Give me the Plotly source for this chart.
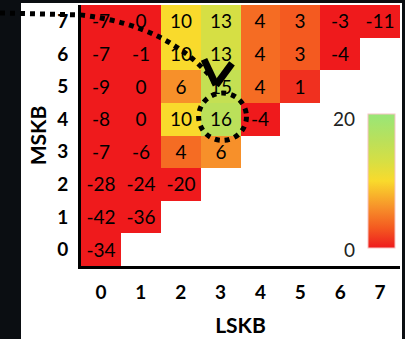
import plotly.graph_objects as go

# ---- data ----
lskb = [0, 1, 2, 3, 4, 5, 6, 7]          # x categories
mskb = [0, 1, 2, 3, 4, 5, 6, 7]          # y categories
row0 = [-34, None, None, None, None, None, None, None]
row1 = [-42, -36, None, None, None, None, None, None]
row2 = [-28, -24, -20, None, None, None, None, None]
row3 = [-7, -6, 4, 6, None, None, None, None]
row4 = [-8, 0, 10, 16, -4, None, None, None]
row5 = [-9, 0, 6, 15, 4, 1, None, None]
row6 = [-7, -1, 10, 13, 4, 3, -4, None]
row7 = [-7, 0, 10, 13, 4, 3, -3, -11]
cbar_ticks = [0, 20]
x_title = "LSKB"
y_title = "MSKB"

z = [row0, row1, row2, row3, row4, row5, row6, row7]
text = [["" if v is None else str(v) for v in r] for r in z]

W, H = 405, 339
L, R, T, B = 81, 5, 5, 70
PW, PH = W - L - R, H - T - B


def px(xp):
    return (xp - L) / PW


def py(yp):
    return (H - B - yp) / PH


FONT = "Lato"

colorscale = [
    [0.0, "#ef1a1c"],
    [0.05, "#f0301f"],
    [0.15, "#f45a20"],
    [0.3, "#f7902a"],
    [0.5, "#f9da2c"],
    [0.65, "#d6df44"],
    [0.8, "#bbe05a"],
    [1.0, "#98e678"],
]

fig = go.Figure()
fig.add_trace(go.Heatmap(
    x=lskb, y=mskb, z=z, text=text,
    texttemplate="%{text}",
    textfont=dict(family=FONT, size=19, color="black"),
    colorscale=colorscale, zmin=cbar_ticks[0], zmax=cbar_ticks[-1],
    xgap=0, ygap=0, hoverinfo="skip",
    colorbar=dict(
        x=px(368), xanchor="left", xpad=0,
        y=py(183), yanchor="middle", ypad=0,
        thickness=27, thicknessmode="pixels",
        len=134, lenmode="pixels",
        outlinewidth=1, outlinecolor="#f7c4c4",
        showticklabels=False, ticks="",
        tickvals=cbar_ticks,
    ),
))

# colorbar labels (left of bar)
lab_y = {cbar_ticks[-1]: 120, cbar_ticks[0]: 252}
for v in cbar_ticks:
    fig.add_annotation(
        x=px(357), y=py(lab_y[v]), xref="paper", yref="paper",
        text=str(v), showarrow=False, xanchor="right", yanchor="middle",
        font=dict(family=FONT, size=19, color="#222222"),
    )

shapes = []
# white slide area over dark background
shapes.append(dict(type="rect", xref="paper", yref="paper",
                   x0=px(21), x1=px(402), y0=py(3), y1=py(H + 20),
                   fillcolor="white", line=dict(width=0), layer="below"))
# dotted pointer line
path = "M {:.5f},{:.5f} L {:.5f},{:.5f} Q {:.5f},{:.5f} {:.5f},{:.5f}".format(
    px(0), py(13), px(80), py(15), px(170), py(25), px(216), py(84))
shapes.append(dict(type="path", xref="paper", yref="paper", path=path,
                   line=dict(color="black", width=5, dash="dot")))
# arrowhead strokes
shapes.append(dict(type="line", xref="paper", yref="paper",
                   x0=px(204), y0=py(60), x1=px(216), y1=py(86),
                   line=dict(color="black", width=7)))
shapes.append(dict(type="line", xref="paper", yref="paper",
                   x0=px(232), y0=py(64), x1=px(216), y1=py(86),
                   line=dict(color="black", width=7)))
# dotted circle around cell (3,4)
shapes.append(dict(type="circle", xref="x", yref="y",
                   x0=2.45, x1=3.65, y0=3.35, y1=4.8,
                   line=dict(color="black", width=5, dash="dot")))

fig.update_layout(
    width=W, height=H,
    margin=dict(l=L, r=R, t=T, b=B, pad=0),
    paper_bgcolor="#0b0e12",
    plot_bgcolor="white",
    shapes=shapes,
    font=dict(family=FONT, color="black"),
    xaxis=dict(
        tickvals=lskb, ticktext=[str(v) for v in lskb],
        range=[-0.5, 7.5], showgrid=False, zeroline=False,
        showline=True, linewidth=3, linecolor="black",
        ticks="", ticklabelstandoff=7,
        tickfont=dict(family=FONT, size=19, color="black", weight="bold"),
        title=dict(text=x_title, standoff=17,
                   font=dict(family=FONT, size=21, color="black", weight="bold")),
    ),
    yaxis=dict(
        tickvals=mskb, ticktext=[str(v) for v in mskb],
        range=[-0.5, 7.5], showgrid=False, zeroline=False,
        showline=True, linewidth=3, linecolor="black",
        ticks="", ticklabelstandoff=6,
        tickfont=dict(family=FONT, size=19, color="black", weight="bold"),
        title=dict(text=y_title, standoff=5,
                   font=dict(family=FONT, size=21, color="black", weight="bold")),
    ),
)

fig.write_html(
    "out.html",
    config={"displayModeBar": False},
    post_script="document.body.style.margin='0';document.body.style.padding='0';",
)
